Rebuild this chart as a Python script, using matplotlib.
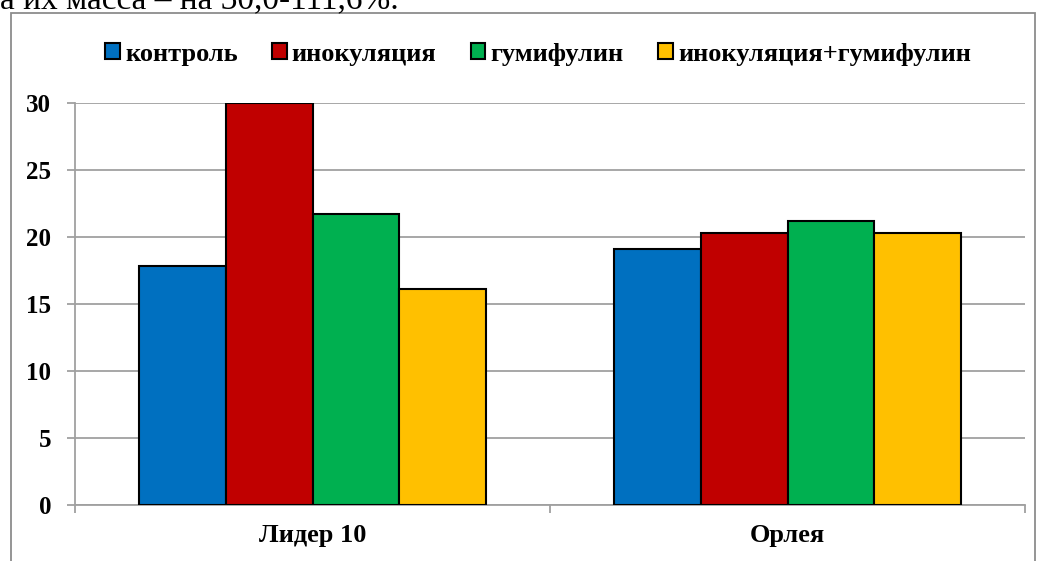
import numpy as np
import matplotlib
matplotlib.use("Agg")
import matplotlib.pyplot as plt
from matplotlib.patches import Rectangle

# данные
sorta = ["Лидер 10", "Орлея"]
varianty = ["контроль", "инокуляция", "гумифулин", "инокуляция+гумифулин"]
kontrol = [17.8, 19.1]
inokul = [30.0, 20.3]
gumif = [21.7, 21.2]
inok_gum = [16.1, 20.3]
cveta = ["#0070C0", "#C00000", "#00B050", "#FFC000"]

plt.rcParams["font.family"] = ["Liberation Serif", "DejaVu Serif"]
plt.rcParams["font.weight"] = "bold"

fig = plt.figure(figsize=(10.4, 5.61), dpi=100)
ax = fig.add_axes([75 / 1040, 1 - 505 / 561, 950 / 1040, 402 / 561])

x = np.arange(len(sorta))
w = 0.73 / 4
serii = [kontrol, inokul, gumif, inok_gum]
for i, vals in enumerate(serii):
    ax.bar(x + (i - 1.5) * w, vals, w, color=cveta[i], edgecolor="black",
           linewidth=1.5, label=varianty[i], zorder=3)

ax.set_xlim(-0.5, 1.5)
ax.set_ylim(0, 30)
ax.set_yticks(range(0, 31, 5))
ax.yaxis.grid(True, color="#a0a0a0", linewidth=1.3, zorder=0)
ax.set_xticks([-0.5, 0.5, 1.5], minor=True)
ax.set_xticks(x)
ax.set_xticklabels(sorta, fontsize=19, fontweight="bold")
ax.tick_params(axis="x", which="major", length=0, pad=14)
ax.tick_params(axis="x", which="minor", length=6, color="#a0a0a0", width=1.3)
ax.tick_params(axis="y", length=6, color="#a0a0a0", width=1.3, labelsize=18, pad=11)
for s in ["top", "right"]:
    ax.spines[s].set_visible(False)
for s in ["left", "bottom"]:
    ax.spines[s].set_color("#a0a0a0")
    ax.spines[s].set_linewidth(1.3)

leg = fig.legend(loc="center", bbox_to_anchor=(538 / 1040, 1 - 54 / 561), ncol=4,
                 frameon=False, fontsize=19, handlelength=0.55, handleheight=0.55,
                 handletextpad=0.2, columnspacing=1.3, borderpad=0)

# рамка диаграммы
fig.patches.append(Rectangle((11 / 1040, -0.1), 1024 / 1040, 1 - 13 / 561 + 0.1,
                             transform=fig.transFigure, fill=False,
                             edgecolor="#8c8c8c", linewidth=1.3))

# текст документа сверху
fig.text(0.0, 1 - 8 / 561, "а их масса – на 30,0-111,6%.", fontsize=24,
         fontweight="normal", va="baseline", ha="left")

fig.savefig("out.png", dpi=100)
